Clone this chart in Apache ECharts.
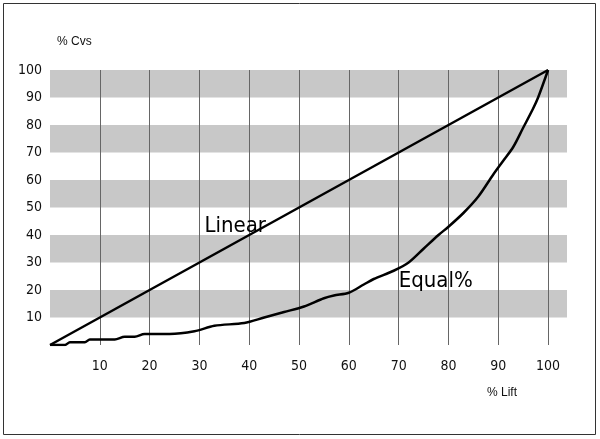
<!DOCTYPE html><html><head><meta charset="utf-8"><script src="https://cdn.jsdelivr.net/npm/echarts@6/dist/echarts.min.js"></script>
<style>html,body{margin:0;background:#fff}#c{width:600px;height:439px}</style></head><body><div id="c"></div><script>
const xTicks=[10,20,30,40,50,60,70,80,90,100];
const bands=[[10,20],[30,40],[50,60],[70,80],[90,100]];
const linear=[[0,0],[100,100]];
const equalPct=[[0,0],[3,0],[4,1],[7,1],[8,2],[13,2],[15,3],[17,3],[19,4],[24,4],[29,5],[33,7],[39,8],[43,10],[47,12],[51,14],[55,17],[57,18],[60,19],[63,22],[65,24],[69,27],[72,30],[75,35],[78,40],[80,43],[83,48],[86,54],[89,62],[91,67],[93,72],[95,79],[97,86],[98,90],[100,100]];
const F='"Liberation Sans Narrow","DejaVu Sans Condensed",sans-serif';
const ch=echarts.init(document.getElementById('c'));
ch.setOption({animation:false,
graphic:[{type:'rect',shape:{x:3.5,y:3.5,width:592,height:431},style:{fill:'none',stroke:'#333',lineWidth:1}},
{type:'text',left:57,top:36,style:{text:'% Cvs',font:'15px '+F,fill:'#111'}},
{type:'text',left:487,top:387,style:{text:'% Lift',font:'15px '+F,fill:'#111'}}],
grid:{left:50,right:33,top:70,bottom:94},
xAxis:{type:'value',min:0,max:103.8,interval:10,axisLine:{show:false},axisTick:{show:false},splitLine:{show:false},
 axisLabel:{fontFamily:F,fontSize:14,color:'#111',margin:14,formatter:v=>(v>0&&v<=100)?v:''}},
yAxis:{type:'value',min:0,max:100,interval:10,axisLine:{show:false},axisTick:{show:false},splitLine:{show:false},
 axisLabel:{fontFamily:F,fontSize:14,color:'#111',margin:8,formatter:v=>v>0?v:''}},
series:[
{type:'line',data:linear,symbol:'none',lineStyle:{color:'#000',width:2.5},z:5,
 markArea:{silent:true,itemStyle:{color:'#c8c8c8'},data:bands.map(b=>[{yAxis:b[0],xAxis:0},{yAxis:b[1],xAxis:103.8}])},
 markLine:{silent:true,symbol:'none',label:{show:false},lineStyle:{color:'#666',width:1,type:'solid'},data:xTicks.map(v=>({xAxis:v}))}},
{type:'line',data:equalPct,symbol:'none',smooth:0.3,lineStyle:{color:'#000',width:2.5},z:5}
]});
ch.setOption({graphic:[{},{},{},
{type:'text',position:ch.convertToPixel({xAxisIndex:0,yAxisIndex:0},[31,47]),style:{text:'Linear',font:'22px '+F,fill:'#000'},z:10},
{type:'text',position:ch.convertToPixel({xAxisIndex:0,yAxisIndex:0},[70,27]),style:{text:'Equal%',font:'22px '+F,fill:'#000'},z:10}]});
</script></body></html>
